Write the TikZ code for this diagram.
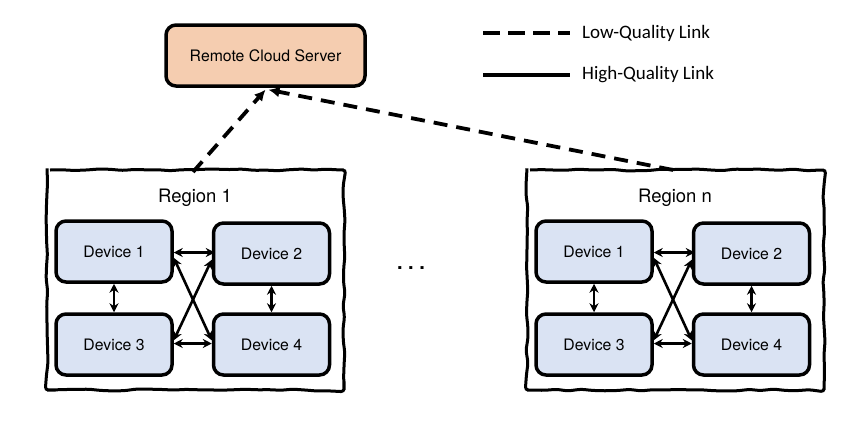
\documentclass[tikz,border=0pt]{standalone}
\usepackage{fontspec}
\setmainfont{TeX Gyre Heros}
\newfontfamily\legfont{Carlito}
\usetikzlibrary{arrows.meta,decorations.pathmorphing,calc}
\definecolor{cloudfill}{HTML}{F5CDB0}
\definecolor{devfill}{HTML}{DAE3F3}
\begin{document}
\begin{tikzpicture}[x=1pt,y=-1pt,
  cloudbox/.style={draw=black,line width=3.5pt,rounded corners=10pt,fill=cloudfill,minimum width=199pt,minimum height=61pt,inner sep=0pt,font=\fontsize{15.8}{18}\selectfont},
  devbox/.style={draw=black,line width=3.5pt,rounded corners=10pt,fill=devfill,minimum width=116pt,minimum height=61pt,inner sep=0pt,font=\fontsize{15.8}{18}\selectfont},
  regionbox/.style={draw=black,line width=3pt,decorate,decoration={random steps,segment length=12pt,amplitude=1pt},rounded corners=3pt},
  reglabel/.style={font=\fontsize{18.5}{21}\selectfont},
  leglabel/.style={font=\legfont\fontsize{19}{22}\selectfont,anchor=west,inner sep=0pt},
  lowlink/.style={line width=3.8pt,dash pattern=on 14pt off 9pt,-{Latex[length=11pt,width=11pt]}},
  highlink/.style={line width=2.6pt,{Stealth[length=9pt,width=9pt]}-{Stealth[length=9pt,width=9pt]}},
  legline/.style={line width=4pt}
]
\useasboundingbox (0,0) rectangle (859,421);
\pgfmathsetseed{7}

% cloud server
\node[cloudbox] (cloud) at (265.5,55.5) {Remote Cloud Server};

% legend
\coordinate (la) at (483,33);
\coordinate (lb) at (570,33);
\coordinate (ha) at (483,75);
\coordinate (hb) at (570,75);
\draw[legline,dash pattern=on 17pt off 8pt] (la) -- (lb);
\draw[legline] (ha) -- (hb);
\node[leglabel] (lowtxt) at (582,33) {Low-Quality Link};
\node[leglabel] (hightxt) at (582,75) {High-Quality Link};

% regions
\foreach \ox/\nm/\lab in {0/a/Region 1,480/b/Region n}{
  \draw[regionbox] (47+\ox,170) -- (344+\ox,170) -- (344+\ox,390) -- (47+\ox,390) -- cycle;
  \node[reglabel] (\nm lab) at (195+\ox,198) {\lab};
  \node[devbox] (\nm1) at (114+\ox,251.5) {Device 1};
  \node[devbox] (\nm2) at (271.5+\ox,253.5) {Device 2};
  \node[devbox] (\nm3) at (114+\ox,344.5) {Device 3};
  \node[devbox] (\nm4) at (271.5+\ox,344.5) {Device 4};
  \draw[highlink] ($(\nm1.east)+(0,1)$) -- ($(\nm1.east)+(41,1)$);
  \draw[highlink] ($(\nm3.east)+(0,-1)$) -- ($(\nm4.west)+(0,-1)$);
  \draw[highlink] (\nm1.south) -- (\nm3.north);
  \draw[highlink] (\nm2.south) -- (\nm4.north);
  \draw[highlink] (\nm1.-6) -- (\nm4.176);
  \draw[highlink] (\nm2.-174) -- (\nm3.4);
}

\coordinate (atop) at (193,172);
\coordinate (btop) at (673,170);

% low quality links
\draw[lowlink] (atop) -- ($(cloud.south)+(0,2)$);
\draw[lowlink] (btop) -- ($(cloud.south)+(3,2)$);

% ellipsis
\node[font=\bfseries\fontsize{20}{24}\selectfont] (dots) at (411,268) {.\ .\ .};
\end{tikzpicture}
\end{document}
